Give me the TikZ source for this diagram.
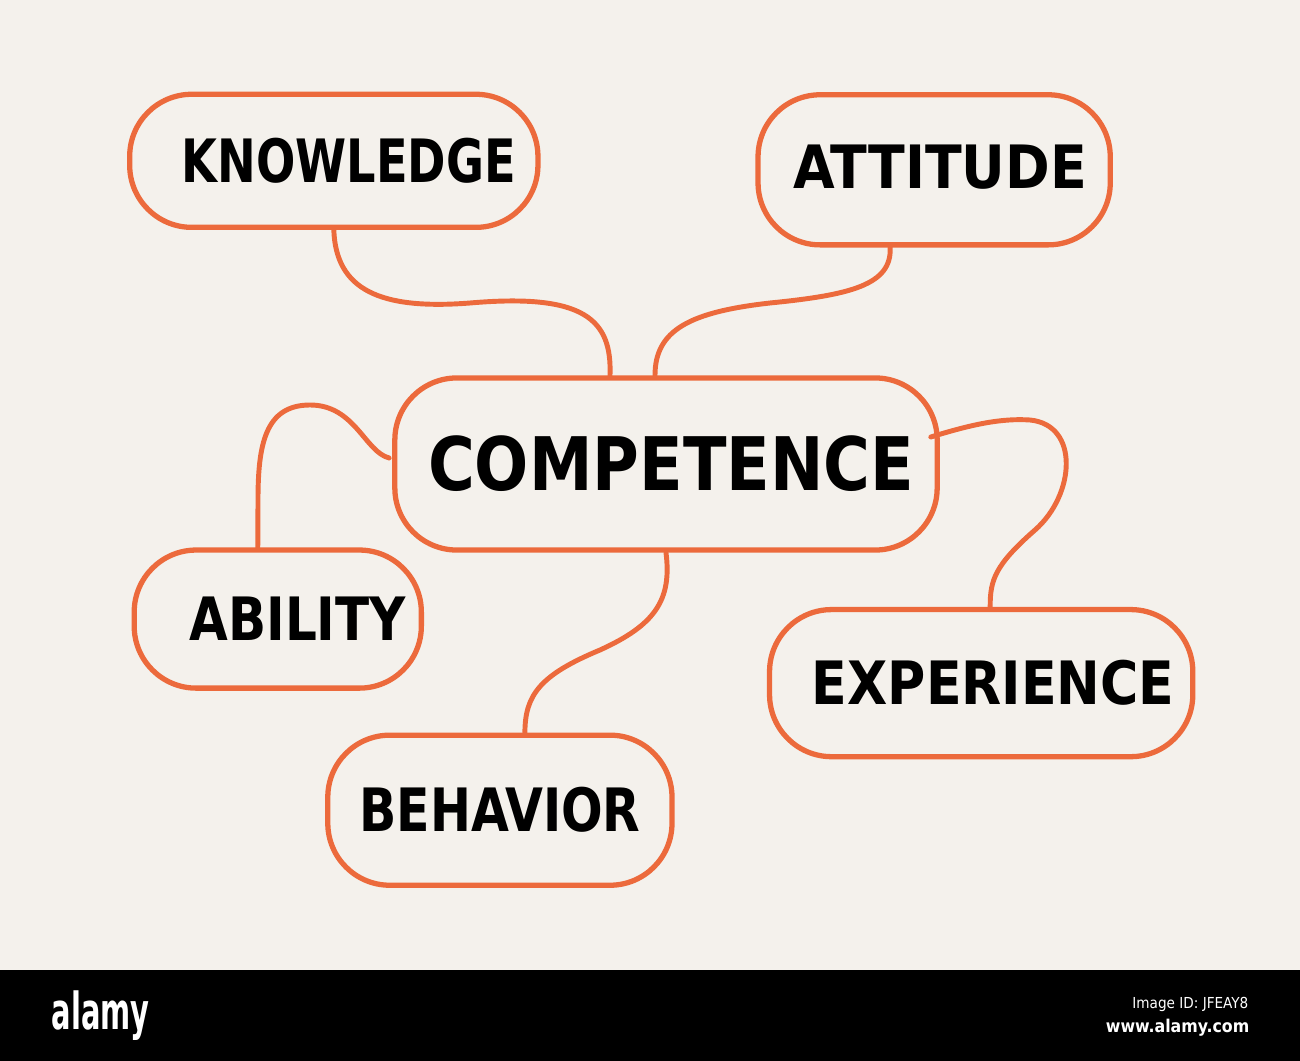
\documentclass[tikz,border=0pt]{standalone}
\usepackage{fontspec}
\usepackage{tikz}
\usetikzlibrary{positioning,calc}
\newfontfamily\handfont{DejaVu Sans Condensed}
\definecolor{marker}{HTML}{EC6A3C}
\definecolor{paper}{HTML}{F4F1EC}

\begin{document}
\begin{tikzpicture}[
      x=0.01cm, y=-0.01cm,
      every node/.style={on grid},
      idea/.style={draw=marker,line width=1.5pt,rounded corners=0.62cm,inner sep=0pt,
                   font=\handfont\bfseries\fontsize{17}{20}\selectfont},
      link/.style={draw=marker,line width=1.4pt,line cap=round},
      bartext/.style={text=white,font=\handfont,inner sep=0pt}
    ]
    \useasboundingbox (0,0) rectangle (1300,1061);
    \fill[paper] (0,0) rectangle (1300,970);
    \fill[black] (0,970) rectangle (1300,1061);

    % centre
    \node[idea,minimum width=5.42cm,minimum height=1.72cm,
          font=\handfont\bfseries\fontsize{21}{24}\selectfont] (comp) at (666,464)
          {\hspace*{0.1cm}\scalebox{0.96}[1]{COMPETENCE}};

    % around it
    \node[idea,minimum width=4.08cm,minimum height=1.33cm,above left=3.03cm and 3.32cm of comp] (know)
          {\hspace*{0.3cm}\scalebox{0.86}[1]{KNOWLEDGE}};
    \node[idea,minimum width=3.52cm,minimum height=1.50cm,above right=2.94cm and 2.68cm of comp] (att)
          {\hspace*{0.12cm}\raisebox{0.07cm}{ATTITUDE}};
    \node[idea,minimum width=2.87cm,minimum height=1.38cm,below left=1.55cm and 3.88cm of comp] (abil)
          {\hspace*{0.4cm}\scalebox{0.93}[1]{ABILITY}};
    \node[idea,minimum width=3.44cm,minimum height=1.50cm,below left=3.46cm and 1.66cm of comp] (behav)
          {\scalebox{0.91}[1]{BEHAVIOR}};
    \node[idea,minimum width=4.23cm,minimum height=1.47cm,below right=2.19cm and 3.15cm of comp] (exper)
          {\hspace*{0.24cm}\scalebox{0.97}[1]{EXPERIENCE}};

    % the links
    \draw[link] (know.south) .. controls (336,290) and (380,310) .. (470,303)
                .. controls (585,293) and (612,320) .. ($(comp.north)+(-56,0)$);
    \draw[link] ($(att.south)+(-44,0)$) .. controls (892,285) and (850,295) .. (770,303)
                .. controls (690,312) and (655,330) .. ($(comp.north)+(-11,0)$);
    \draw[link] ($(comp.west)+(-3,-6)$) .. controls (365,452) and (355,405) .. (310,405)
                .. controls (265,405) and (258,445) .. (258,500) -- ($(abil.north)+(-20,0)$);
    \draw[link] (comp.south) .. controls (672,600) and (655,625) .. (600,650)
                .. controls (540,675) and (525,695) .. ($(behav.north)+(25,0)$);
    \draw[link] ($(comp.east)+(-9,-27)$) .. controls (970,425) and (1000,418) .. (1030,420)
                .. controls (1080,425) and (1075,495) .. (1035,530)
                .. controls (995,565) and (990,580) .. ($(exper.north)+(9,0)$);

    % the bar
    \node[bartext,anchor=west,font=\handfont\bfseries\fontsize{14.5}{16}\selectfont] (logo) at (51,1016)
          {\scalebox{0.63}[1]{alamy}};
    \node[bartext,anchor=east,font=\handfont\fontsize{4.3}{5}\selectfont] (imgid) at (1249,1004) {Image ID: JFEAY8};
    \node[bartext,anchor=east,font=\handfont\bfseries\fontsize{5}{6}\selectfont] (site) at (1250,1028) {www.alamy.com};
    \end{tikzpicture}
\end{document}
